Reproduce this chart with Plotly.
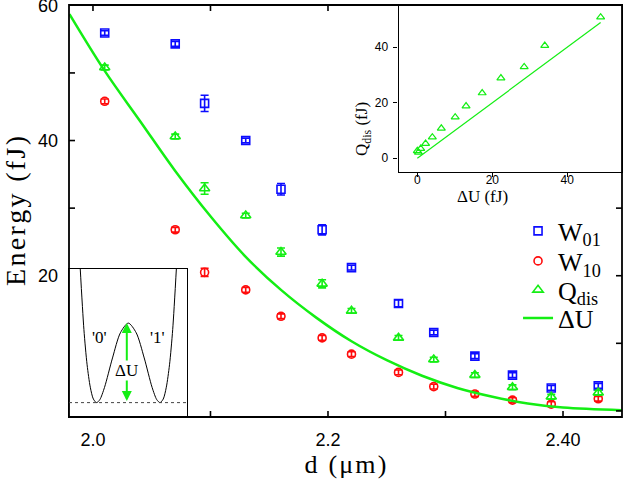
import plotly.graph_objects as go

# ---------------- data ----------------
d_vals = [2.01, 2.07, 2.095, 2.13, 2.16, 2.195, 2.22, 2.26, 2.29, 2.325, 2.357, 2.39, 2.43]
W01 = [55.9, 54.3, 45.5, 40.0, 32.8, 26.8, 21.2, 15.9, 11.6, 8.1, 5.3, 3.4, 3.7]
W01_err = [0.35, 0.35, 1.2, 0.35, 0.85, 0.75, 0.35, 0.5, 0.35, 0.35, 0.35, 0.35, 0.35]
W10 = [45.8, 26.8, 20.5, 17.9, 14.0, 10.8, 8.4, 5.7, 3.6, 2.5, 1.6, 1.0, 1.8]
W10_err = [0.35, 0.35, 0.6, 0.35, 0.35, 0.35, 0.35, 0.35, 0.35, 0.35, 0.35, 0.35, 0.35]
Qdis = [50.8, 40.6, 32.9, 28.9, 23.5, 18.8, 14.8, 10.8, 7.6, 5.3, 3.5, 2.1, 2.7]
Qdis_err = [0.35, 0.35, 0.85, 0.35, 0.6, 0.6, 0.35, 0.35, 0.35, 0.35, 0.35, 0.35, 0.35]

dU_curve_d = [1.98, 2.01, 2.04, 2.07, 2.10, 2.13, 2.16, 2.19, 2.22, 2.25, 2.28, 2.31, 2.34, 2.37, 2.40, 2.45]
dU_curve = [58.7, 50.3, 42.9, 35.5, 28.8, 22.8, 17.9, 13.8, 10.3, 7.5, 5.2, 3.4, 2.1, 1.1, 0.5, 0.1]

dU_pts = [48.9, 34.0, 28.5, 22.3, 17.3, 13.0, 10.1, 6.4, 4.0, 2.2, 0.9, 0.3, 0.0]

well_x = [11.1, 14.9, 18.1, 21.3, 24.4, 27.6, 30.8, 35.5, 43.5, 51.4, 59.3,
          67.2, 75.2, 83.1, 87.8, 91.0, 94.2, 97.3, 100.5, 103.7, 107.5]
well_y = [149.9, 87.1, 51.9, 29.6, 17.8, 14.3, 17.2, 29.4, 58.7, 83.7, 93.3,
          83.7, 58.7, 29.4, 17.2, 14.3, 17.8, 29.6, 51.9, 87.1, 149.9]

x_labvals = [2.0, 2.2, 2.4]
x_labtext = ["2.0", "2.2", "2.40"]
y_labvals = [20, 40, 60]
y_labtext = ["20", "40", "60"]
# inward tick marks that are visible on each side (the rest is hidden by the insets)
x_ticks_bottom = [2.1, 2.2, 2.3, 2.4]
x_ticks_top = [2.0, 2.1, 2.2]
y_ticks_left = [30, 40, 50]
y_ticks_right = [0, 10, 20, 30]
inset_ticks = [0, 20, 40]

X_RANGE = [1.9796, 2.4502]
Y_RANGE = [-0.9, 60.05]

BLUE = "#0c0cff"
RED = "#ff0c0c"
GREEN = "#14ee14"
SERIF = "Liberation Serif"
SANS = "Liberation Sans"
HS = "\u200a"

PLOT_W, PLOT_H = 553, 412
TICK = 6


def spaced(s):
    return HS.join(list(s))


fig = go.Figure()

fig.add_trace(go.Scatter(
    x=d_vals, y=W01, mode="markers", name="W<sub>01</sub>", legend="legend",
    marker=dict(symbol="square-open", size=8, color=BLUE, line=dict(width=1.6, color=BLUE)),
    error_y=dict(type="data", array=W01_err, color=BLUE, thickness=1.6, width=4),
))
fig.add_trace(go.Scatter(
    x=d_vals, y=W10, mode="markers", name="W<sub>10</sub>", legend="legend2",
    marker=dict(symbol="circle-open", size=8, color=RED, line=dict(width=1.6, color=RED)),
    error_y=dict(type="data", array=W10_err, color=RED, thickness=1.6, width=4),
))
fig.add_trace(go.Scatter(
    x=d_vals, y=Qdis, mode="markers", name="Q<sub>dis</sub>", legend="legend3",
    marker=dict(symbol="triangle-up-open", size=9, color=GREEN, line=dict(width=1.6, color=GREEN)),
    error_y=dict(type="data", array=Qdis_err, color=GREEN, thickness=1.6, width=4),
))
fig.add_trace(go.Scatter(
    x=dU_curve_d, y=dU_curve, mode="lines", name="\u0394U", legend="legend4",
    line=dict(color=GREEN, width=2.5, shape="spline", smoothing=1.0),
))

dU_sorted = sorted(dU_pts)
fig.add_trace(go.Scatter(
    x=dU_sorted, y=dU_sorted, mode="lines", showlegend=False,
    line=dict(color=GREEN, width=1.2), xaxis="x2", yaxis="y2",
))
fig.add_trace(go.Scatter(
    x=dU_pts, y=Qdis, mode="markers", showlegend=False,
    marker=dict(symbol="triangle-up-open", size=7, color=GREEN, line=dict(width=1.2, color=GREEN)),
    xaxis="x2", yaxis="y2",
))

fig.add_trace(go.Scatter(
    x=well_x, y=well_y, mode="lines", showlegend=False,
    line=dict(color="black", width=1, shape="spline", smoothing=0.8),
    xaxis="x3", yaxis="y3",
))

nogrid = dict(showgrid=False, zeroline=False, automargin=False)
framed = dict(showline=True, linecolor="black")


def leg(py):
    return dict(
        x=0.812, y=py, xanchor="left", yanchor="middle",
        font=dict(family=SERIF, size=26, color="black"),
        bgcolor="rgba(0,0,0,0)", itemwidth=30,
    )


# frame and inward ticks of the main panel
shapes = [
    dict(type="rect", xref="paper", yref="paper", x0=0, x1=1, y0=0, y1=1,
         line=dict(color="black", width=1.8), fillcolor="rgba(0,0,0,0)", layer="above"),
    dict(type="line", xref="x3 domain", yref="y3", x0=0, x1=1, y0=min(well_y), y1=min(well_y),
         line=dict(color="#444444", width=1, dash="dot")),
]
tick_line = dict(color="black", width=1.6)
for v in x_ticks_bottom:
    shapes.append(dict(type="line", xref="x", yref="y domain", x0=v, x1=v, y0=0, y1=TICK / PLOT_H,
                       line=tick_line, layer="above"))
for v in x_ticks_top:
    shapes.append(dict(type="line", xref="x", yref="y domain", x0=v, x1=v, y0=1 - TICK / PLOT_H, y1=1,
                       line=tick_line, layer="above"))
for v in y_ticks_left:
    shapes.append(dict(type="line", xref="x domain", yref="y", x0=0, x1=TICK / PLOT_W, y0=v, y1=v,
                       line=tick_line, layer="above"))
for v in y_ticks_right:
    shapes.append(dict(type="line", xref="x domain", yref="y", x0=1 - TICK / PLOT_W, x1=1, y0=v, y1=v,
                       line=tick_line, layer="above"))

fig.update_layout(
    template="none",
    width=623, height=480,
    margin=dict(l=69, r=1, t=5, b=63, autoexpand=False),
    paper_bgcolor="white", plot_bgcolor="white",
    showlegend=True,
    legend=leg(0.4515), legend2=leg(0.3786), legend3=leg(0.3083), legend4=leg(0.2403),
    xaxis=dict(
        **nogrid, domain=[0, 1], range=X_RANGE, anchor="y", showline=False, ticks="",
        tickmode="array", tickvals=x_labvals, ticktext=x_labtext,
        tickfont=dict(family=SANS, size=18, color="black"), ticklabelstandoff=10,
        title=dict(text=spaced("d (\u03bcm)"), font=dict(family=SERIF, size=26, color="black"), standoff=0),
    ),
    yaxis=dict(
        **nogrid, domain=[0, 1], range=Y_RANGE, anchor="x", showline=False, ticks="",
        tickmode="array", tickvals=y_labvals, ticktext=y_labtext, ticklabeloverflow="allow",
        tickfont=dict(family=SANS, size=18, color="black"), ticklabelstandoff=10,
        title=dict(text=spaced("Energy (fJ)"), font=dict(family=SERIF, size=28, color="black"), standoff=6),
    ),
    xaxis2=dict(
        **nogrid, **framed, domain=[0.596, 1.0], anchor="y2", range=[-5, 54.6], linewidth=1.2, mirror=True,
        tickmode="array", tickvals=inset_ticks, ticks="outside", ticklen=4, tickcolor="black",
        tickfont=dict(family=SANS, size=12, color="black"), ticklabelstandoff=-8,
    ),
    yaxis2=dict(
        **nogrid, **framed, domain=[0.594, 1.0], anchor="x2", range=[-5.04, 55.2], linewidth=1.2, mirror=True,
        tickmode="array", tickvals=inset_ticks, ticks="outside", ticklen=4, tickcolor="black",
        tickfont=dict(family=SANS, size=12, color="black"), ticklabelstandoff=3,
    ),
    xaxis3=dict(
        **nogrid, **framed, domain=[0.0, 0.2134], anchor="y3", range=[0, 118], linewidth=1.2, mirror=True,
        showticklabels=False, ticks="",
    ),
    yaxis3=dict(
        **nogrid, **framed, domain=[0.0, 0.359], anchor="x3", range=[0, 147], linewidth=1.2, mirror=True,
        showticklabels=False, ticks="",
    ),
    shapes=shapes,
)

# inset axis titles
fig.add_annotation(xref="paper", yref="paper", x=0.7975, y=0.5340, text="\u0394U (fJ)", showarrow=False,
                   font=dict(family=SERIF, size=17, color="black"))
fig.add_annotation(xref="paper", yref="paper", x=0.5316, y=0.7694, text="Q<sub>dis</sub> (fJ)",
                   showarrow=False, textangle=-90, font=dict(family=SERIF, size=17, color="black"))

peak_i = well_y.index(max(well_y[5:16]))
peak_x = well_x[peak_i]
fig.add_annotation(
    xref="x3", yref="y3", axref="x3", ayref="y3",
    x=peak_x - 1.5, y=well_y[peak_i], ax=peak_x - 1.5, ay=min(well_y),
    text="", showarrow=True, arrowhead=2, arrowside="end+start",
    arrowsize=1, arrowwidth=2, arrowcolor=GREEN,
)
fig.add_annotation(
    xref="x3", yref="y3", x=peak_x - 1.5, y=46, text="\u0394U", showarrow=False,
    font=dict(family=SERIF, size=17, color="black"), bgcolor="white", borderpad=0,
)
fig.add_annotation(xref="x3", yref="y3", x=30, y=79, text="'0'", showarrow=False,
                   font=dict(family=SERIF, size=17, color="black"))
fig.add_annotation(xref="x3", yref="y3", x=88, y=79, text="'1'", showarrow=False,
                   font=dict(family=SERIF, size=17, color="black"))

fig.write_html("out.html", config={"displayModeBar": False},
               post_script="document.body.style.margin='0px';")
